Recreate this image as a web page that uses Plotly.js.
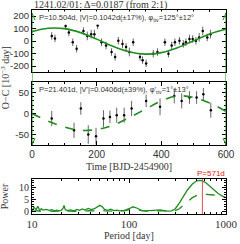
<!DOCTYPE html>
<html><head><meta charset="utf-8">
<script src="https://cdn.plot.ly/plotly-3.0.1.min.js"></script>
<style>html,body{margin:0;padding:0;background:#fff}#c{width:240px;height:244px}</style>
</head><body><div id="c"></div>
<script>
// Panel 1: O-C data (time, value, error) and model
const t1 = [50, 61, 71, 104, 114, 126, 138, 159, 171, 183, 193, 203, 215, 229, 246, 257, 267, 280, 291, 301, 313, 334, 342, 353, 375, 388, 411, 422, 432, 442, 456, 468, 476, 487, 497, 507, 517, 528, 542, 552];
const oc1 = [171, 41, 21, 120, 68, -10, -62, 80, 41, 55, 55, 125, -10, -36, -88, -127, 2, -23, -47, -88, -10, -127, -153, -179, -101, -88, -10, -101, -36, -10, 2, -23, -10, 16, 16, 2, 29, 80, 29, 55];
const err1 = [35, 30, 30, 30, 30, 30, 30, 30, 35, 35, 35, 30, 30, 30, 30, 30, 30, 35, 30, 35, 30, 30, 30, 30, 30, 30, 30, 30, 30, 30, 30, 30, 30, 35, 30, 30, 35, 35, 30, 35];
const modelT = [0, 50, 100, 150, 200, 250, 300, 350, 400, 450, 500, 550, 600];
const model1 = [75, 102, 99, 67, 15, -42, -86, -105, -93, -53, 2, 57, 94];
const y1Ticks = [-200, -100, 0, 100, 200];
const y1Text = ['-200', '-100', '0', '100', '200'];

// Panel 2
const t2 = [61, 130, 151, 174, 198, 221, 241, 262, 285, 308, 353, 396, 440, 463, 487, 509, 530, 553];
const oc2 = [-12, -40, 12, -50, -54, -12, -8, -4, -4, 12, 30, 16, 42, 30, 38, 38, 46, 8];
const err2 = [18, 18, 15, 22, 20, 20, 15, 18, 18, 18, 15, 20, 18, 18, 15, 15, 15, 18];
const model2 = [0, -18, -32, -40, -38, -28, -10, 10, 30, 42, 38, 25, 5];
const y2Ticks = [-50, 0, 50];
const y2Text = ['-50', '0', '50'];

// Panel 3: periodogram
const period = [10, 10.5, 11, 11.5, 12, 12.5, 13, 14, 15, 16, 17, 18, 19, 20, 21, 21.4, 22, 23, 25, 27, 29, 31, 33, 35, 38, 41, 44, 47, 50, 53, 56, 60, 65, 70, 75, 80, 90, 100, 110, 120, 135, 150, 170, 190, 210, 230, 250, 275, 300, 330, 360, 400, 450, 500, 540, 571, 620, 680, 750, 830, 910, 1000];
const powerA = [0.3, 1.8, 0.8, 2.2, 0.5, 1.2, 0.6, 0.9, 0.5, 0.8, 0.3, 0.6, 0.3, 0.5, 1.5, 2.6, 0.8, 0.4, 0.7, 0.3, 0.9, 0.5, 1.1, 0.6, 1.3, 0.8, 1.2, 1.8, 2.6, 2.0, 0.9, 0.5, 1.0, 0.4, 0.6, 0.3, 0.5, 1.2, 2.0, 1.5, 0.4, 0.3, 0.5, 0.8, 0.7, 0.4, 0.2, 0.3, 1.2, 3.5, 6.0, 9.0, 11.5, 12.8, 13.0, 12.8, 12.0, 10.5, 9.0, 7.5, 6.5, 5.8];
const powerB = [0.1, 0.3, 0.2, 0.4, 0.1, 0.3, 0.2, 0.2, 0.1, 0.3, 0.1, 0.2, 0.1, 0.2, 0.3, 0.5, 0.2, 0.1, 0.2, 0.1, 0.3, 0.2, 0.3, 0.2, 0.4, 0.2, 0.3, 0.5, 0.6, 0.5, 0.3, 0.2, 0.3, 0.2, 0.2, 0.2, 0.3, 0.8, 1.0, 0.7, 0.3, 0.2, 0.3, 0.4, 0.4, 0.3, 0.2, 0.2, 0.4, 1.2, 2.5, 4.2, 5.8, 6.7, 7.0, 7.2, 7.2, 7.1, 6.9, 6.5, 6.1, 5.8];
const superPeriod = 571;

const GREEN = '#1e8c1e';
const serif = 'Liberation Serif, Times New Roman, serif';
const sans = 'Liberation Sans, Arial, sans-serif';
const TXT = '#333';

const ax = {showline:true, linecolor:'#000', linewidth:1, mirror:'ticks', ticks:'inside', ticklen:4, tickcolor:'#000', showgrid:false, zeroline:false};

const traces = [
  {x:t1, y:oc1, xaxis:'x', yaxis:'y', mode:'markers', type:'scatter', marker:{color:'#000', size:2.5},
   error_y:{type:'data', array:err1, color:'#666', thickness:1, width:0}},
  {x:modelT, y:model1, xaxis:'x', yaxis:'y', mode:'lines', line:{color:GREEN, width:1.6, shape:'spline'}},
  {x:t2, y:oc2, xaxis:'x2', yaxis:'y2', mode:'markers', type:'scatter', marker:{color:'#000', size:2.5},
   error_y:{type:'data', array:err2, color:'#666', thickness:1, width:0}},
  {x:modelT, y:model2, xaxis:'x2', yaxis:'y2', mode:'lines', line:{color:GREEN, width:1.6, dash:'dash', shape:'spline'}},
  {x:period, y:powerA, xaxis:'x3', yaxis:'y3', mode:'lines', line:{color:GREEN, width:1.3}},
  {x:period, y:powerB, xaxis:'x3', yaxis:'y3', mode:'lines', line:{color:GREEN, width:1.3, dash:'dash'}}
];

function arrowHead(xv, yv, up) {
  const s = up ? -1 : 1;
  return {type:'path', xref:'x', yref:'paper', xsizemode:'pixel', ysizemode:'pixel', xanchor:xv, yanchor:yv,
    path:'M -3,' + (s*7) + ' L 0,0 L 3,' + (s*7), line:{color:GREEN, width:1}};
}

const layout = {
  width:240, height:244, margin:{l:32, r:14, t:10, b:30},
  paper_bgcolor:'#fff', plot_bgcolor:'#fff', showlegend:false,
  font:{family:sans, size:10, color:TXT},
  xaxis: Object.assign({}, ax, {domain:[0,1], anchor:'y', range:[0,600], dtick:200, showticklabels:false,
          minor:{ticks:'inside', ticklen:2, dtick:50, tickcolor:'#000'}}),
  yaxis: Object.assign({}, ax, {domain:[0.696,1], anchor:'x', range:[-248,248], tickvals:y1Ticks, ticktext:y1Text,
          minor:{ticks:'inside', ticklen:2, dtick:50, tickcolor:'#000'}, tickfont:{family:sans, size:9.5, color:TXT}}),
  xaxis2: Object.assign({}, ax, {domain:[0,1], anchor:'y2', range:[0,600], dtick:200, tickfont:{family:sans, size:10, color:TXT},
          minor:{ticks:'inside', ticklen:2, dtick:50, tickcolor:'#000'}}),
  yaxis2: Object.assign({}, ax, {domain:[0.338,0.647], anchor:'x2', range:[-75,75], tickvals:y2Ticks, ticktext:y2Text,
          minor:{ticks:'inside', ticklen:2, dtick:10, tickcolor:'#000'}, tickfont:{family:sans, size:9.5, color:TXT}}),
  xaxis3: Object.assign({}, ax, {domain:[0,1], anchor:'y3', type:'log', range:[1,3], tickvals:[10,100,1000], ticktext:['10','100','1000'],
          tickfont:{family:serif, size:11, color:TXT}, minor:{ticks:'inside', ticklen:2, dtick:'D1', tickcolor:'#000'}}),
  yaxis3: Object.assign({}, ax, {domain:[0,0.172], anchor:'x3', range:[-1,13.6], dtick:5,
          minor:{ticks:'inside', ticklen:2, dtick:1, tickcolor:'#000'}, tickfont:{family:serif, size:10, color:TXT}}),
  shapes:[
    {type:'line', xref:'x', yref:'paper', x0:0, x1:0, y0:0.338, y1:0.985, line:{color:GREEN, width:1}},
    {type:'line', xref:'x', yref:'paper', x0:600, x1:600, y0:0.338, y1:0.985, line:{color:GREEN, width:1}},
    arrowHead(0, 0.985, true), arrowHead(600, 0.985, true),
    arrowHead(0, 0.338, false), arrowHead(600, 0.338, false),
    {type:'line', xref:'x3', yref:'y3', x0:superPeriod, x1:superPeriod, y0:-1, y1:13.6, line:{color:'#e05050', width:1}}
  ],
  annotations:[
    {xref:'paper', yref:'paper', x:0, y:1, xanchor:'left', yanchor:'bottom', yshift:-3, showarrow:false,
     text:'1241.02/01: Δ=0.0187 (from 2:1)', font:{family:serif, size:10, color:TXT}},
    {xref:'paper', yref:'paper', x:0.025, y:1, xanchor:'left', yanchor:'top', yshift:-1, showarrow:false, bgcolor:'#fff',
     text:'P=10.504d, |V|=0.1042d(±17%), φ<sub>ttv</sub>=125°±12°', font:{family:sans, size:7.5, color:TXT}},
    {xref:'paper', yref:'paper', x:0.025, y:0.647, xanchor:'left', yanchor:'top', yshift:-1, showarrow:false,
     text:'P=21.401d, |V\'|=0.0406d(±39%), φ\'<sub>ttv</sub>=1°±13°', font:{family:sans, size:7.5, color:TXT}},
    {xref:'paper', yref:'paper', x:-0.14, y:0.67, xanchor:'center', yanchor:'middle', textangle:-90, showarrow:false,
     text:'O−C [10<sup>−3</sup> day]', font:{family:serif, size:10, color:TXT}},
    {xref:'paper', yref:'paper', x:0.5, y:0.338, xanchor:'center', yanchor:'top', yshift:-14, showarrow:false,
     text:'Time [BJD-2454900]', font:{family:serif, size:10, color:TXT}},
    {xref:'paper', yref:'paper', x:0.5, y:0, xanchor:'center', yanchor:'top', yshift:-14, showarrow:false,
     text:'Period [day]', font:{family:serif, size:10, color:TXT}},
    {xref:'paper', yref:'paper', x:-0.14, y:0.086, xanchor:'center', yanchor:'middle', textangle:-90, showarrow:false,
     text:'Power', font:{family:serif, size:10, color:TXT}},
    {xref:'x3', yref:'paper', x:Math.log10(superPeriod), y:0.172, xanchor:'center', yanchor:'bottom', xshift:9, yshift:-1, showarrow:false,
     text:'P=' + superPeriod + 'd', font:{family:sans, size:8, color:'#e02020'}}
  ]
};

Plotly.newPlot('c', traces, layout, {staticPlot:true, displayModeBar:false});
</script></body></html>
